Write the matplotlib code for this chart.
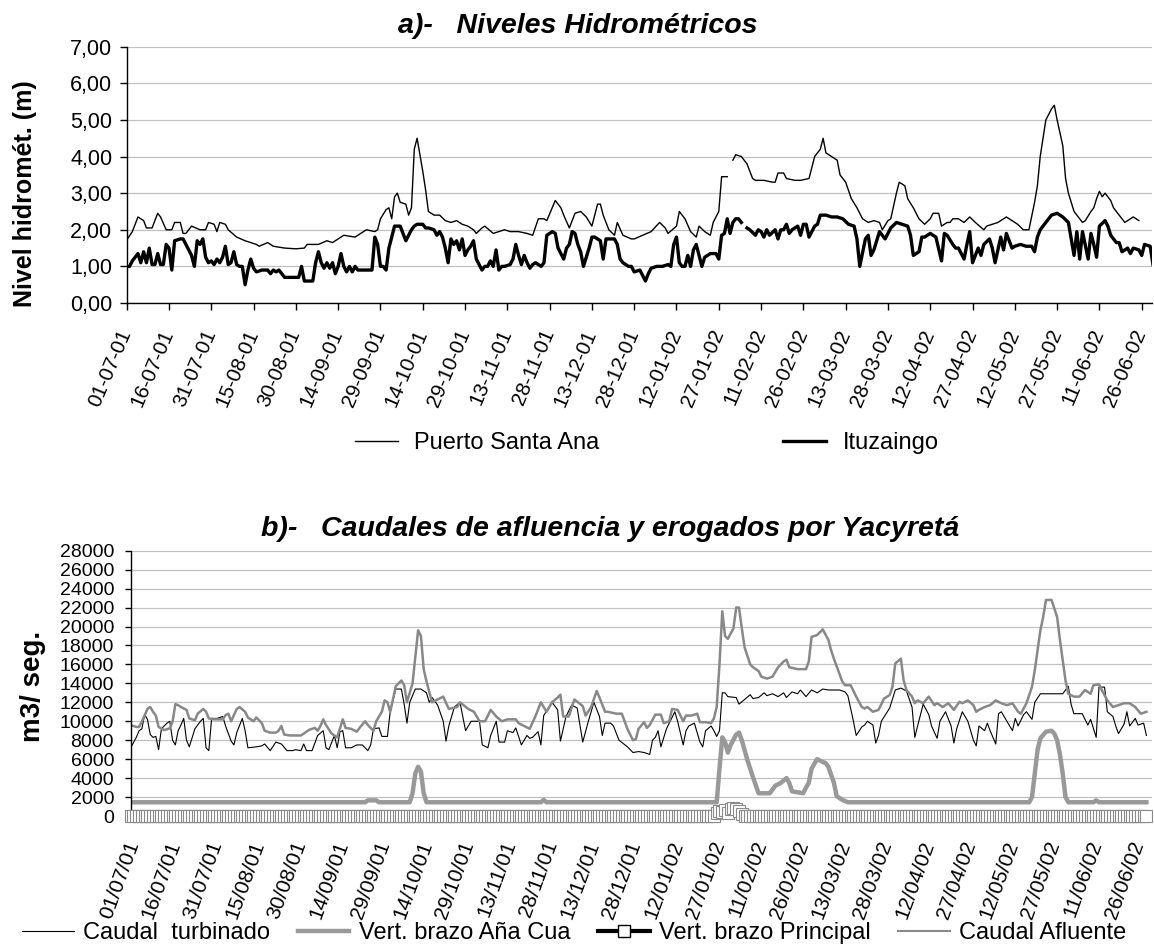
import numpy as np
import matplotlib
matplotlib.use("Agg")
import matplotlib.pyplot as plt
from matplotlib.lines import Line2D
from matplotlib.transforms import ScaledTranslation

plt.rcParams['font.family'] = ['Liberation Sans', 'DejaVu Sans']

# eje x: dias contados desde el 01-07-01
tick_days = list(range(0, 361, 15))
tick_labels_a = ['01-07-01', '16-07-01', '31-07-01', '15-08-01', '30-08-01', '14-09-01',
                 '29-09-01', '14-10-01', '29-10-01', '13-11-01', '28-11-01', '13-12-01',
                 '28-12-01', '12-01-02', '27-01-02', '11-02-02', '26-02-02', '13-03-02',
                 '28-03-02', '12-04-02', '27-04-02', '12-05-02', '27-05-02', '11-06-02',
                 '26-06-02']
tick_labels_b = ['01/07/01', '16/07/01', '31/07/01', '15/08/01', '30/08/01', '14/09/01',
                 '29/09/01', '14/10/01', '29/10/01', '13/11/01', '28/11/01', '13/12/01',
                 '28/12/01', '12/01/02', '27/01/02', '11/02/02', '26/02/02', '13/03/02',
                 '28/03/02', '12/04/02', '27/04/02', '12/05/02', '27/05/02', '11/06/02',
                 '26/06/02']

# niveles hidrometricos (dia, m)
santa_ana = [
    (0, 1.72), (2, 1.95), (4, 2.35), (6, 2.25), (7, 2.05), (9, 2.05), (11, 2.45), (12, 2.35),
    (14, 2.0), (16, 2.0), (17, 2.2), (19, 2.2), (20, 1.9), (21, 1.9), (23, 2.1), (26, 2.0),
    (28, 2.0), (29, 2.2), (31, 2.15), (32, 1.95), (33, 2.2), (35, 2.15), (36, 2.0), (39, 1.8),
    (42, 1.7), (46, 1.6), (47, 1.55), (50, 1.65), (52, 1.55), (56, 1.5), (60, 1.48), (63, 1.5),
    (64, 1.6), (68, 1.6), (71, 1.7), (73, 1.65), (77, 1.85), (81, 1.8), (83, 1.9), (85, 2.0),
    (88, 1.95), (89, 2.0), (90, 2.3), (92, 2.55), (93, 2.6), (94, 2.3), (95, 2.9), (96, 3.0),
    (97, 2.75), (99, 2.7), (100, 2.4), (101, 2.6), (102, 4.2), (103, 4.5), (105, 3.6),
    (106, 3.1), (107, 2.5), (109, 2.4), (111, 2.4), (113, 2.25), (115, 2.2), (117, 2.25),
    (119, 2.15), (121, 2.1), (123, 2.0), (124, 1.9), (126, 2.05), (127, 2.1), (130, 1.9),
    (132, 1.95), (134, 2.0), (136, 1.95), (139, 1.95), (142, 1.9), (144, 1.85), (146, 2.3),
    (148, 2.3), (149, 2.25), (152, 2.8), (154, 2.6), (155, 2.4), (157, 2.05), (159, 2.45),
    (161, 2.5), (163, 2.35), (165, 2.1), (167, 2.7), (168, 2.7), (169, 2.4), (171, 2.0),
    (173, 1.85), (174, 2.2), (176, 1.85), (179, 1.75), (180, 1.75), (183, 1.85), (186, 1.95),
    (189, 2.2), (191, 2.05), (192, 1.9), (195, 2.1), (196, 2.5), (198, 2.3), (200, 1.95),
    (202, 1.8), (203, 2.1), (205, 1.95), (207, 1.85), (208, 2.2), (210, 2.5), (211, 3.45),
    (213, 3.45), (214, np.nan), (215, 3.9), (216, 4.05), (218, 4.0), (220, 3.8), (222, 3.4),
    (223, 3.35), (226, 3.35), (229, 3.3), (230, 3.3), (231, 3.55), (233, 3.55), (234, 3.4),
    (237, 3.35), (239, 3.35), (242, 3.4), (243, 3.7), (244, 4.0), (246, 4.2), (247, 4.5),
    (248, 4.1), (250, 4.0), (252, 3.9), (253, 3.5), (255, 3.3), (257, 2.85), (259, 2.6),
    (261, 2.3), (263, 2.2), (265, 2.25), (267, 2.2), (268, 2.0), (270, 2.25), (271, 2.3),
    (273, 3.0), (274, 3.3), (276, 3.2), (277, 2.85), (279, 2.6), (281, 2.3), (283, 2.15),
    (285, 2.3), (286, 2.45), (288, 2.45), (289, 2.1), (291, 2.2), (292, 2.2), (293, 2.3),
    (295, 2.3), (297, 2.2), (299, 2.35), (301, 2.2), (304, 2.0), (305, 2.1), (307, 2.15),
    (309, 2.2), (312, 2.35), (314, 2.25), (316, 2.15), (318, 2.0), (320, 2.0), (322, 2.75),
    (323, 3.2), (324, 4.0), (326, 5.0), (328, 5.3), (329, 5.4), (330, 5.0), (332, 4.3),
    (333, 3.4), (334, 3.0), (336, 2.5), (339, 2.2), (340, 2.25), (342, 2.5), (343, 2.6),
    (344, 2.85), (345, 3.05), (346, 2.9), (347, 3.0), (349, 2.8), (350, 2.6), (352, 2.4),
    (354, 2.2), (355, 2.25), (357, 2.35), (359, 2.25),
]

ituzaingo = [
    (0, 1.0), (1, 1.0), (2, 1.15), (3, 1.25), (4, 1.35), (5, 1.1), (6, 1.4), (7, 1.1), (8, 1.5),
    (9, 1.05), (10, 1.05), (11, 1.35), (12, 1.05), (13, 1.05), (14, 1.6), (15, 1.5), (16, 0.9),
    (17, 1.7), (19, 1.75), (20, 1.75), (21, 1.6), (23, 1.3), (24, 1.0), (25, 1.7), (26, 1.6),
    (27, 1.75), (28, 1.25), (29, 1.1), (30, 1.15), (31, 1.05), (32, 1.2), (33, 1.1), (34, 1.25),
    (35, 1.55), (36, 1.05), (37, 1.1), (38, 1.4), (39, 1.05), (40, 1.0), (41, 1.0), (42, 0.5),
    (43, 0.9), (44, 1.2), (45, 0.95), (46, 0.85), (48, 0.9), (50, 0.9), (51, 0.8), (52, 0.9),
    (53, 0.85), (54, 0.9), (55, 0.8), (56, 0.7), (59, 0.7), (61, 0.7), (62, 1.0), (63, 0.6),
    (65, 0.6), (66, 0.6), (67, 1.1), (68, 1.4), (69, 1.1), (70, 0.95), (71, 1.1), (72, 0.95),
    (73, 1.1), (74, 0.8), (75, 1.0), (76, 1.35), (77, 1.0), (78, 0.85), (79, 1.0), (80, 0.85),
    (81, 1.0), (82, 0.9), (84, 0.9), (86, 0.9), (87, 0.9), (88, 1.8), (89, 1.6), (90, 1.0),
    (91, 1.0), (92, 0.9), (93, 1.5), (94, 1.8), (95, 2.1), (97, 2.1), (98, 1.9), (99, 1.7),
    (101, 2.0), (102, 2.1), (103, 2.15), (105, 2.15), (106, 2.05), (107, 2.05), (109, 2.0),
    (110, 1.85), (111, 1.95), (112, 1.8), (113, 1.5), (114, 1.1), (115, 1.75), (116, 1.6),
    (117, 1.7), (118, 1.45), (119, 1.75), (120, 1.3), (121, 1.45), (122, 1.55), (123, 1.7),
    (124, 1.2), (126, 0.9), (127, 1.0), (128, 1.0), (129, 1.15), (130, 1.0), (131, 1.45),
    (132, 0.9), (133, 1.0), (134, 1.0), (136, 1.05), (137, 1.2), (138, 1.6), (139, 1.3),
    (140, 1.05), (141, 1.3), (142, 1.1), (143, 0.95), (144, 1.05), (145, 1.1), (147, 1.0),
    (148, 1.1), (149, 1.85), (151, 1.95), (152, 1.9), (153, 1.5), (155, 1.2), (156, 1.5),
    (157, 1.6), (158, 1.95), (159, 1.9), (160, 1.6), (161, 1.4), (162, 1.0), (164, 1.5),
    (165, 1.8), (166, 1.8), (168, 1.7), (169, 1.2), (170, 1.75), (172, 1.75), (173, 1.75),
    (174, 1.6), (175, 1.2), (176, 1.1), (178, 1.0), (179, 1.0), (180, 0.85), (182, 0.9),
    (183, 0.75), (184, 0.6), (185, 0.8), (186, 0.95), (188, 1.0), (190, 1.0), (192, 1.05),
    (193, 1.0), (194, 1.6), (195, 1.8), (196, 1.1), (197, 1.0), (198, 1.0), (199, 1.3),
    (200, 1.0), (201, 1.45), (202, 1.6), (203, 1.3), (204, 1.0), (205, 1.25), (207, 1.35),
    (209, 1.35), (210, 1.2), (211, 1.85), (212, 1.9), (213, 2.3), (214, 1.9), (215, 2.2),
    (216, 2.3), (217, 2.3), (218, 2.2), (219, np.nan), (220, 2.05), (221, 2.0), (223, 1.85),
    (224, 2.0), (225, 1.95), (226, 1.8), (227, 2.0), (228, 1.85), (230, 2.0), (231, 1.75),
    (232, 2.0), (233, 2.0), (234, 2.15), (235, 1.9), (236, 2.0), (238, 2.1), (239, 1.85),
    (240, 2.15), (241, 2.15), (242, 1.8), (244, 2.1), (245, 2.15), (246, 2.4), (248, 2.4),
    (250, 2.35), (252, 2.35), (254, 2.3), (256, 2.15), (258, 2.1), (259, 1.75), (260, 1.0),
    (262, 1.75), (263, 1.85), (264, 1.3), (265, 1.45), (267, 1.95), (269, 1.75), (271, 2.05),
    (273, 2.2), (275, 2.15), (277, 2.1), (278, 1.85), (279, 1.3), (281, 1.4), (282, 1.8),
    (283, 1.8), (285, 1.9), (286, 1.85), (287, 1.8), (289, 1.15), (290, 1.9), (291, 1.85),
    (293, 1.6), (294, 1.5), (295, 1.5), (297, 1.2), (298, 1.6), (299, 1.95), (300, 1.1),
    (302, 1.5), (303, 1.3), (304, 1.6), (306, 1.75), (307, 1.5), (308, 1.1), (310, 1.8),
    (311, 1.45), (312, 1.9), (314, 1.5), (315, 1.55), (317, 1.6), (319, 1.55), (321, 1.55),
    (322, 1.4), (323, 1.8), (324, 2.0), (326, 2.2), (328, 2.4), (330, 2.45), (332, 2.35),
    (334, 2.2), (336, 1.3), (337, 1.95), (338, 1.2), (339, 1.95), (341, 1.2), (342, 1.9),
    (343, 1.6), (344, 1.25), (345, 2.1), (347, 2.25), (348, 2.1), (349, 1.85), (351, 1.65),
    (352, 1.65), (353, 1.4), (355, 1.5), (356, 1.35), (357, 1.5), (359, 1.45), (360, 1.3),
    (361, 1.6), (363, 1.55), (364, 1.05),
]

# caudales (dia, m3/seg)
turbinado = [
    (0, 7200), (2, 8300), (3, 9000), (4, 9200), (5, 10700), (6, 10200), (7, 8600), (8, 8300),
    (9, 8400), (10, 7000), (11, 9200), (13, 9800), (14, 10000), (15, 8000), (16, 7500),
    (17, 9000), (18, 9600), (19, 10300), (20, 8000), (21, 7300), (23, 9200), (25, 10000),
    (26, 10300), (27, 7200), (28, 6900), (29, 10300), (31, 10300), (33, 10500), (34, 9500),
    (36, 7900), (37, 7500), (38, 8800), (40, 10300), (41, 9000), (42, 7200), (45, 7300),
    (47, 7400), (48, 7600), (50, 6900), (52, 7800), (54, 7600), (56, 6900), (58, 6900),
    (59, 7000), (61, 6900), (62, 7600), (63, 6900), (65, 6900), (67, 8500), (69, 9000),
    (70, 7200), (71, 7000), (73, 8500), (74, 7200), (75, 8900), (76, 9000), (77, 7200),
    (79, 7200), (81, 7500), (83, 7500), (85, 6900), (86, 7500), (87, 9200), (89, 9300),
    (90, 8400), (92, 8400), (93, 11000), (95, 13400), (97, 13400), (98, 11800), (99, 9800),
    (100, 12000), (102, 13400), (104, 13400), (106, 13000), (107, 12000), (108, 12500),
    (110, 11700), (112, 10000), (113, 7900), (114, 9500), (116, 11500), (118, 12000),
    (119, 10500), (120, 9000), (122, 10000), (123, 10000), (125, 10000), (126, 7500),
    (128, 7200), (129, 8500), (131, 10000), (132, 7800), (134, 7800), (135, 9000), (137, 8800),
    (138, 9300), (140, 7500), (142, 8500), (143, 8200), (144, 8300), (146, 8900), (147, 7500),
    (148, 10600), (150, 11500), (151, 12000), (153, 11200), (154, 7900), (156, 10500),
    (158, 11700), (160, 11400), (162, 7800), (164, 10000), (166, 12000), (168, 10500),
    (169, 8500), (170, 9800), (172, 9800), (173, 9500), (175, 8000), (178, 7300), (180, 6700),
    (182, 6800), (184, 6700), (186, 6500), (187, 8000), (188, 8300), (189, 9000), (190, 7300),
    (192, 9200), (193, 9800), (195, 11000), (196, 10000), (198, 7500), (199, 9000), (200, 9500),
    (202, 9800), (204, 7800), (205, 7300), (206, 9000), (208, 9500), (209, 9000), (210, 8400),
    (211, 9000), (212, 13000), (213, 13000), (214, 12600), (217, 12500), (218, 11800),
    (220, 12300), (222, 12800), (223, 12400), (225, 12500), (227, 13000), (228, 12700),
    (230, 12900), (232, 12600), (234, 13000), (235, 12500), (237, 13100), (239, 12900),
    (240, 13300), (242, 12600), (244, 13300), (246, 13000), (248, 13400), (250, 13300),
    (252, 13300), (254, 13300), (256, 13100), (257, 12700), (259, 10000), (260, 8500),
    (262, 9400), (263, 9600), (264, 10000), (266, 9600), (267, 7700), (268, 8500), (269, 10000),
    (272, 11400), (274, 13300), (276, 13500), (278, 13200), (280, 11500), (281, 8300),
    (282, 9500), (284, 11800), (286, 10700), (287, 9500), (289, 8200), (290, 10000),
    (292, 11000), (294, 9500), (295, 7700), (296, 9200), (298, 11000), (300, 10000),
    (302, 8000), (303, 7400), (304, 9500), (306, 9000), (307, 9800), (308, 9000), (310, 7600),
    (311, 10800), (312, 11000), (314, 10000), (316, 9000), (317, 10300), (318, 9500),
    (320, 10700), (321, 11000), (323, 10200), (324, 12000), (326, 12900), (328, 12900),
    (330, 12900), (332, 12900), (334, 12900), (336, 13700), (337, 11800), (338, 10800),
    (340, 10800), (341, 10800), (343, 9600), (344, 10200), (346, 8300), (347, 13600),
    (349, 13600), (350, 11000), (352, 10500), (353, 9500), (354, 8700), (356, 9700),
    (357, 11000), (358, 9500), (360, 10300), (361, 9600), (363, 9800), (364, 8500),
]

afluente = [
    (0, 9600), (2, 9400), (3, 9400), (4, 9950), (6, 11300), (7, 11500), (8, 11000), (9, 10600),
    (10, 9400), (12, 9070), (14, 9250), (15, 9950), (16, 11800), (17, 11700), (18, 11500),
    (20, 11200), (21, 10300), (23, 10100), (24, 10800), (26, 11300), (27, 11000), (28, 10300),
    (30, 10200), (33, 10200), (34, 10650), (35, 10800), (36, 10000), (38, 11300), (39, 11500),
    (41, 11000), (42, 10400), (44, 10000), (45, 10400), (47, 9800), (48, 9000), (50, 8800),
    (52, 8800), (53, 9000), (54, 9500), (55, 8600), (57, 8500), (59, 8500), (61, 8500),
    (62, 8700), (64, 9100), (66, 9300), (67, 9000), (68, 9500), (69, 10200), (70, 9600),
    (72, 8700), (74, 8300), (76, 10200), (77, 9300), (79, 9200), (81, 8900), (82, 9300),
    (84, 10000), (85, 9600), (87, 9000), (88, 10000), (90, 11000), (91, 12200), (92, 12000),
    (93, 11000), (95, 13700), (97, 14300), (98, 13800), (99, 12000), (101, 14000),
    (103, 19600), (104, 19000), (105, 15500), (106, 14200), (108, 12000), (110, 12300),
    (112, 12600), (114, 11300), (117, 11500), (118, 12000), (121, 11300), (123, 11000),
    (125, 10000), (127, 10000), (129, 11200), (131, 10500), (133, 10000), (135, 10200),
    (138, 10200), (139, 9800), (141, 9500), (143, 9200), (145, 10500), (147, 12000),
    (149, 11000), (151, 12000), (153, 12500), (154, 12800), (155, 10500), (157, 10500),
    (159, 12300), (162, 11600), (163, 10600), (165, 11500), (167, 13200), (168, 12500),
    (170, 11000), (171, 11000), (174, 10800), (176, 10800), (178, 9200), (180, 8000),
    (181, 8100), (182, 9200), (184, 9900), (185, 9300), (186, 9600), (188, 10700), (190, 10700),
    (191, 9800), (193, 10000), (194, 11300), (196, 11200), (198, 10000), (199, 10600),
    (201, 10600), (203, 10800), (204, 9900), (206, 9900), (208, 9800), (209, 10300),
    (210, 11500), (211, 16000), (212, 21600), (213, 19000), (214, 18700), (216, 19800),
    (217, 22000), (218, 22000), (219, 19800), (220, 17800), (222, 16000), (223, 15700),
    (225, 15300), (226, 14700), (228, 14500), (230, 14700), (232, 15700), (233, 16000),
    (234, 16300), (235, 16500), (236, 15700), (239, 15500), (242, 15500), (243, 16300),
    (244, 18900), (246, 19100), (248, 19700), (250, 18600), (251, 17500), (252, 16600),
    (254, 15000), (255, 14200), (256, 13800), (258, 13800), (260, 12600), (262, 11500),
    (263, 11350), (264, 11500), (266, 11000), (268, 11200), (270, 12400), (272, 12760),
    (273, 13640), (274, 16100), (276, 16600), (277, 14300), (278, 13300), (280, 12600),
    (281, 11900), (282, 12200), (284, 11900), (286, 12600), (288, 11700), (289, 11900),
    (291, 11500), (293, 11900), (295, 11200), (297, 12060), (298, 11900), (300, 12200),
    (302, 11700), (303, 11000), (304, 11200), (306, 11500), (308, 11700), (310, 12200),
    (312, 11900), (314, 11700), (316, 11900), (318, 11000), (319, 10800), (321, 11900),
    (323, 13640), (324, 15400), (326, 19600), (327, 21000), (328, 22800), (330, 22800),
    (332, 21000), (333, 18600), (334, 16450), (335, 14300), (336, 12900), (338, 12600),
    (340, 12600), (342, 13300), (344, 12900), (345, 13800), (347, 13900), (348, 13300),
    (350, 12200), (352, 11500), (354, 11700), (356, 11900), (358, 11900), (360, 11500),
    (362, 10800), (364, 11000),
]

ana_cua = [
    (0, 1450), (84, 1450), (85, 1650), (88, 1650), (89, 1450), (100, 1450), (101, 2400),
    (102, 4500), (103, 5200), (104, 4700), (105, 2400), (106, 1450), (147, 1450), (148, 1700),
    (149, 1450), (210, 1450), (211, 5000), (212, 8300), (213, 7800), (214, 6700), (215, 7500),
    (217, 8600), (218, 8800), (219, 8000), (221, 5900), (223, 4100), (225, 2400), (229, 2400),
    (231, 3200), (233, 3500), (235, 4000), (236, 3500), (237, 2600), (241, 2400), (242, 3000),
    (243, 3500), (244, 5000), (246, 6000), (248, 5700), (249, 5600), (250, 5200), (252, 3500),
    (253, 2100), (255, 1700), (257, 1450), (322, 1450), (323, 2000), (324, 4500), (325, 7000),
    (326, 8200), (328, 8900), (330, 9000), (331, 8700), (332, 8000), (333, 6500), (334, 4500),
    (335, 2000), (336, 1450), (345, 1450), (346, 1650), (347, 1450), (364, 1450),
]

# brazo principal: cero todo el anio salvo a fines de enero
principal_dias = np.arange(365)
principal_picos = [(210, 300), (211, 500), (212, 400), (213, 600), (214, 300), (215, 700),
                   (216, 800), (217, 700), (218, 500), (219, 200)]

sa_d, sa_v = np.array(santa_ana).T
itu_d, itu_v = np.array(ituzaingo).T
tur_d, tur_v = np.array(turbinado).T
afl_d, afl_v = np.array(afluente).T
ana_d, ana_v = np.array(ana_cua).T
principal = np.zeros(len(principal_dias))
for d, v in principal_picos:
    principal[d] = v

W, H = 1154, 946
fig = plt.figure(figsize=(W / 100, H / 100), dpi=100)


def shift_labels(ax, dx, dy):
    # corre las etiquetas del eje x (en pixeles)
    for lbl in ax.get_xticklabels():
        lbl.set_transform(lbl.get_transform() + ScaledTranslation(dx / 100, dy / 100, fig.dpi_scale_trans))


# ---- a) niveles
ax1 = fig.add_axes([126.7 / W, 1 - 303 / H, (1152 - 126.7) / W, 256.3 / H])
ax1.plot(sa_d, sa_v, color='black', lw=1.0, label='Puerto Santa Ana')
ax1.plot(itu_d, itu_v, color='black', lw=2.4, label='Ituzaingo')
ax1.set_xlim(0, 363.65)
ax1.set_ylim(0, 7)
ax1.set_yticks(np.arange(0, 8))
ax1.set_yticklabels([f'{v:.2f}'.replace('.', ',') for v in range(8)])
ax1.grid(axis='y', color='#c0c0c0', lw=0.9)
ax1.set_axisbelow(True)
for s in ['top', 'right']:
    ax1.spines[s].set_visible(False)
ax1.spines['left'].set_linewidth(1.0)
ax1.spines['bottom'].set_linewidth(1.0)
ax1.tick_params(axis='y', length=4.8, width=1, pad=5.5, labelsize=15.5)
ax1.tick_params(axis='x', length=4.8, width=1, pad=12, labelsize=14.8)
ax1.set_xticks(tick_days)
ax1.set_xticklabels(tick_labels_a, rotation=67, ha='right', va='top', rotation_mode='anchor')
shift_labels(ax1, -9, 0)

fig.text(578 / W, 1 - 33 / H, 'a)-   Niveles Hidrométricos', ha='center', va='baseline',
         fontsize=20.5, fontweight='bold', fontstyle='italic')
fig.text(25 / W, 1 - 193.5 / H, 'Nivel hidromét. (m)', rotation=90, ha='center', va='center',
         fontsize=18, fontweight='bold')
fig.legend(handles=[Line2D([], [], color='black', lw=1.0), Line2D([], [], color='black', lw=2.4)],
           labels=['Puerto Santa Ana', 'Ituzaingo'], ncol=2, loc='center left',
           bbox_to_anchor=(355 / W, 1 - 443 / H), frameon=False, fontsize=17,
           handlelength=1.8, handletextpad=0.7, columnspacing=7.8, borderpad=0, borderaxespad=0)

# ---- b) caudales
ax2 = fig.add_axes([130.7 / W, 1 - 816 / H, (1152 - 130.7) / W, 265.3 / H])
ax2.plot(tur_d, tur_v, color='black', lw=0.8)
ax2.plot(ana_d, ana_v, color='#999999', lw=3.2)
ax2.plot(principal_dias, principal, color='black', lw=2.5, marker='s', ms=8,
         mfc='white', mec='#8a8a8a', mew=0.8, clip_on=False, zorder=3)
ax2.plot(afl_d, afl_v, color='#888888', lw=1.8)
ax2.set_xlim(0, 366)
ax2.set_ylim(0, 28000)
ax2.set_yticks(np.arange(0, 28001, 2000))
ax2.grid(axis='y', color='#c0c0c0', lw=0.9)
ax2.set_axisbelow(True)
for s in ['top', 'right', 'bottom']:
    ax2.spines[s].set_visible(False)
ax2.spines['left'].set_linewidth(1.0)
ax2.tick_params(axis='y', length=4.5, width=1, pad=7.5, labelsize=14)
ax2.tick_params(axis='x', length=0, pad=16, labelsize=15)
ax2.set_xticks(tick_days)
ax2.set_xticklabels(tick_labels_b, rotation=70, ha='right', va='top', rotation_mode='anchor')
shift_labels(ax2, -6, 0)

fig.text(610 / W, 1 - 536 / H, 'b)-   Caudales de afluencia y erogados por Yacyretá',
         ha='center', va='baseline', fontsize=20.5, fontweight='bold', fontstyle='italic')
fig.text(33 / W, 1 - 686 / H, 'm3/ seg.', rotation=90, ha='center', va='center',
         fontsize=20, fontweight='bold')

handles_b = [
    Line2D([], [], color='black', lw=0.8),
    Line2D([], [], color='#999999', lw=3.2),
    Line2D([], [], color='black', lw=3, marker='s', ms=9, mfc='white', mec='black', mew=1),
    Line2D([], [], color='#888888', lw=1.5),
]
fig.legend(handles=handles_b,
           labels=['Caudal  turbinado', 'Vert. brazo Aña Cua', 'Vert. brazo Principal',
                   'Caudal Afluente'],
           ncol=4, loc='center left', bbox_to_anchor=(22 / W, 1 - 933 / H), frameon=False,
           fontsize=17, handlelength=2.2, handletextpad=0.4, columnspacing=1.15,
           borderpad=0, borderaxespad=0, numpoints=1)

fig.savefig('out.png', dpi=100)
